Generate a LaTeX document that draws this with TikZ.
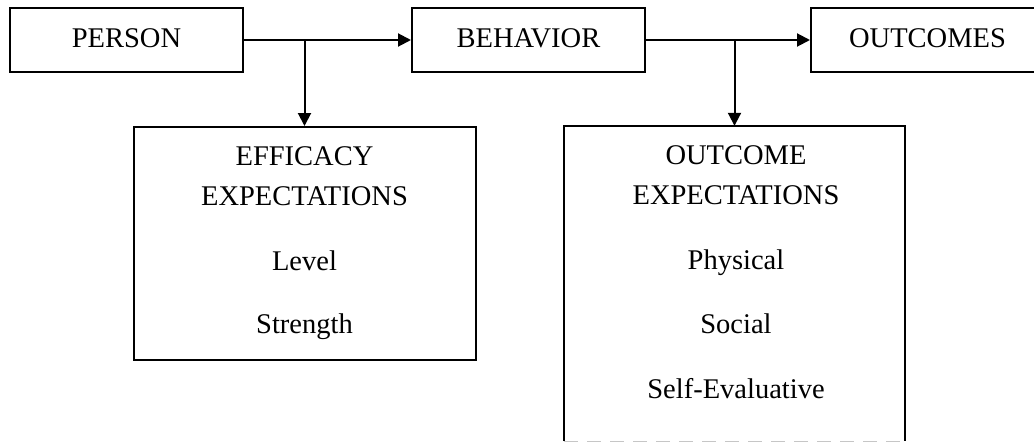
\documentclass[tikz,border=0pt]{standalone}
\usepackage{fontspec}
\setmainfont{Liberation Serif}
\usetikzlibrary{arrows.meta}
\begin{document}
\begin{tikzpicture}[x=1pt,y=-1pt,
  box/.style={draw=black, line width=2pt, inner sep=0pt},
  openbox/.style={inner sep=0pt},
  txt/.style={inner sep=0pt, anchor=base, font=\fontsize{28.5}{34}\selectfont},
  arr/.style={line width=2pt, -{Triangle[length=13pt,width=13pt]}}]
\useasboundingbox (0,0) rectangle (1034,442);
\clip (0,0) rectangle (1034,442);
% top row
\node[box, minimum width=233pt, minimum height=64pt] (person) at (126.5,40) {};
\node[box, minimum width=233pt, minimum height=64pt] (behavior) at (528.5,40) {};
\node[box, minimum width=233pt, minimum height=64pt] (outcomes) at (927.5,40) {};
\node[txt] (personlbl) at (126.5,47) {PERSON};
\node[txt] (behaviorlbl) at (528.5,47) {BEHAVIOR};
\node[txt] (outcomeslbl) at (927.5,47) {OUTCOMES};
% lower boxes
\node[box, minimum width=342pt, minimum height=233pt] (eff) at (304.5,243.5) {};
\node[openbox, minimum width=340pt, minimum height=315pt] (oexp) at (734.5,283.5) {};
\draw[line width=2pt] (oexp.south west) -- (oexp.north west) -- (oexp.north east) -- (oexp.south east);
\draw[gray!45, line width=1pt, dash pattern=on 14pt off 9pt] (oexp.south west) -- (oexp.south east);
% texts
\node[txt] (e1) at (304.5,165) {EFFICACY};
\node[txt] (e2) at (304.5,205) {EXPECTATIONS};
\node[txt] (e3) at (304.5,270) {Level};
\node[txt] (e4) at (304.5,333) {Strength};
\node[txt] (o1) at (736,164) {OUTCOME};
\node[txt] (o2) at (736,204) {EXPECTATIONS};
\node[txt] (o3) at (736,269) {Physical};
\node[txt] (o4) at (736,333) {Social};
\node[txt] (o5) at (736,398) {Self-Evaluative};
% connectors
\coordinate (j1) at (eff.north |- person.east);
\coordinate (j2) at (oexp.north |- behavior.east);
\draw[arr] (person.east) -- (behavior.west);
\draw[arr] (behavior.east) -- (outcomes.west);
\draw[arr] (j1) -- (eff.north);
\draw[arr] (j2) -- (oexp.north);
\end{tikzpicture}
\end{document}
